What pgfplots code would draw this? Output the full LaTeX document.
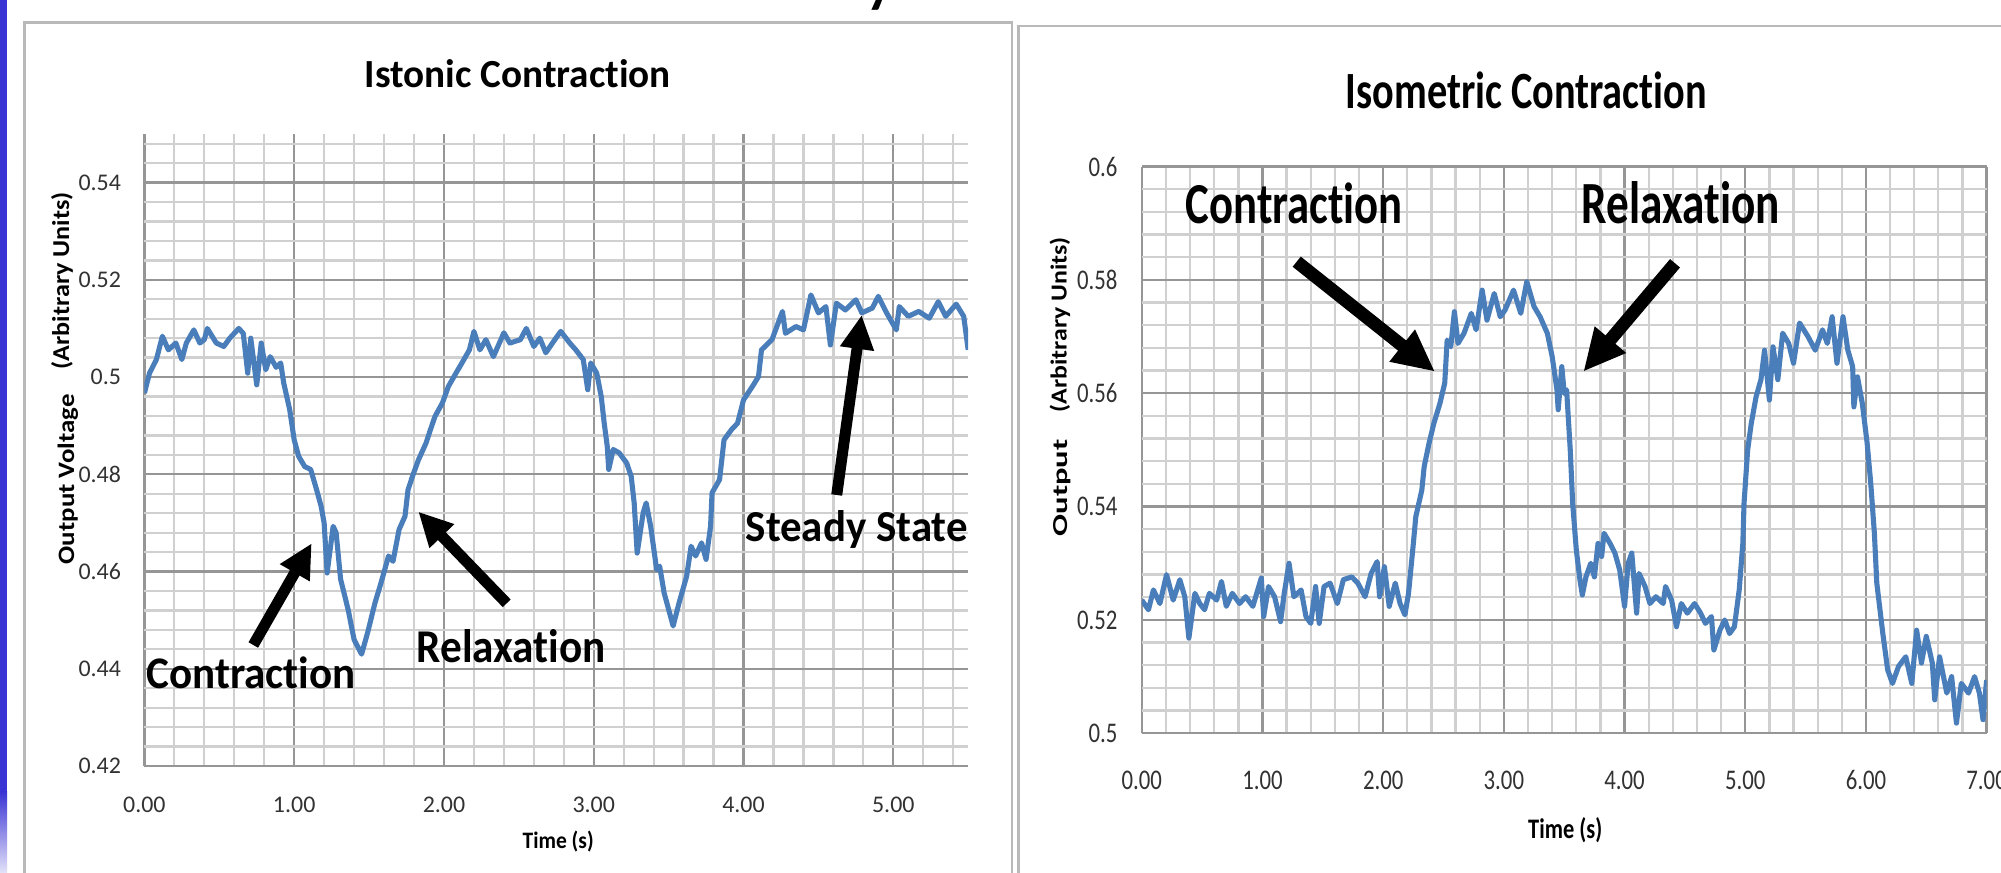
\documentclass[border=0pt]{standalone}
\usepackage{pgfplots}
\pgfplotsset{compat=1.18}
\usepackage{graphicx}
\usepackage{fontspec}
\setmainfont{Carlito}[Ligatures=NoCommon]
\usetikzlibrary{arrows.meta}

\definecolor{linecol}{RGB}{74,126,187}
\definecolor{gridmaj}{RGB}{150,150,150}
\definecolor{gridmin}{RGB}{208,208,208}
\definecolor{ticktext}{RGB}{50,50,50}
\definecolor{framecol}{RGB}{185,185,185}
\definecolor{slideblue}{RGB}{58,52,212}

\pgfplotsset{
  excelgrid/.style={
    scale only axis, anchor=south west,
    grid=both,
    major grid style={line width=0.65pt, color=gridmaj},
    minor grid style={line width=0.65pt, color=gridmin},
    axis line style={draw=none},
    tick style={draw=none},
  },
  trace/.style={color=linecol, line width=1.45pt, line join=round, no markers},
}

\begin{document}
\begin{tikzpicture}[x=1cm, y=1cm]
\fill[white] (0,0) rectangle (20.01,8.72);
\clip (0,0) rectangle (20.01,8.72);

% slide edge and chart frames
\fill[slideblue] (0,0.8) rectangle (0.07,8.72);
\shade[top color=slideblue, bottom color=slideblue!15] (0,0) rectangle (0.07,0.8);
\draw[framecol, line width=0.7pt] (0.247,-0.3) rectangle (10.12,8.493);
\draw[framecol, line width=0.7pt] (10.186,-0.3) rectangle (20.4,8.46);
\node[anchor=base, inner sep=0, font=\bfseries\fontsize{16}{18}\selectfont] at (8.80,8.70) {y};

% ---------------- left chart ----------------
\begin{axis}[excelgrid,
  at={(1.444cm,1.06cm)}, width=8.238cm, height=6.32cm,
  xmin=0, xmax=5.5, ymin=0.42, ymax=0.55,
  xtick={0,1,2,3,4,5}, xticklabels={0.00,1.00,2.00,3.00,4.00,5.00},
  ytick={0.42,0.44,0.46,0.48,0.50,0.52,0.54},
  yticklabels={0.42,0.44,0.46,0.48,0.5,0.52,0.54},
  minor xtick={0,0.2,...,5.41},
  minor ytick={0.424,0.428,...,0.5481},
  xticklabel style={font=\fontsize{6.8}{8}\selectfont, text=ticktext},
  yticklabel style={font=\fontsize{6.8}{8}\selectfont, text=ticktext},
  xticklabel shift=0.185cm, yticklabel shift=0.11cm,
]
\addplot[trace] coordinates {
(0,0.4967) (0.034,0.5008) (0.08,0.5036) (0.12,0.5084) (0.16,0.5056) (0.21,0.5070)
(0.25,0.5036) (0.28,0.507) (0.33,0.5097) (0.37,0.5070) (0.40,0.5077) (0.42,0.510)
(0.48,0.507) (0.53,0.5063) (0.57,0.508) (0.63,0.510) (0.66,0.509) (0.69,0.5008)
(0.71,0.508) (0.75,0.4984) (0.78,0.507) (0.81,0.5015) (0.84,0.5042) (0.88,0.502)
(0.91,0.5029) (0.93,0.4988) (0.97,0.4933) (1.0,0.4871) (1.03,0.4837) (1.07,0.4816)
(1.11,0.481) (1.15,0.4768) (1.18,0.4734) (1.2,0.470) (1.22,0.4597) (1.26,0.4693)
(1.28,0.468) (1.31,0.4584) (1.36,0.4522) (1.40,0.446) (1.45,0.443) (1.49,0.4474)
(1.54,0.4536) (1.58,0.4577) (1.63,0.4632) (1.66,0.4621) (1.70,0.4686) (1.74,0.4714)
(1.76,0.4768) (1.79,0.4796) (1.83,0.483) (1.88,0.4864) (1.91,0.4892) (1.94,0.4919)
(1.99,0.4947) (2.03,0.4981) (2.08,0.5008) (2.12,0.5029) (2.17,0.5056) (2.20,0.5094)
(2.24,0.5056) (2.28,0.5077) (2.33,0.5042) (2.36,0.5063) (2.40,0.5091) (2.44,0.507)
(2.51,0.5077) (2.55,0.510) (2.60,0.5063) (2.64,0.5080) (2.68,0.505) (2.74,0.5077)
(2.78,0.5094) (2.84,0.507) (2.88,0.5056) (2.93,0.5036) (2.96,0.4974) (2.98,0.5029)
(3.02,0.5008) (3.05,0.496) (3.07,0.4905) (3.09,0.4858) (3.10,0.481) (3.13,0.4851)
(3.17,0.4844) (3.22,0.4823) (3.25,0.4796) (3.27,0.4741) (3.29,0.4638) (3.33,0.4721)
(3.35,0.4741) (3.38,0.4693) (3.42,0.4604) (3.44,0.4611) (3.47,0.4556) (3.53,0.4488)
(3.57,0.4536) (3.62,0.459) (3.65,0.4652) (3.68,0.4632) (3.72,0.4659) (3.75,0.4625)
(3.78,0.4693) (3.79,0.4762) (3.84,0.4789) (3.87,0.4871) (3.92,0.4892) (3.96,0.4905)
(4.00,0.4953) (4.06,0.4981) (4.10,0.5001) (4.12,0.5056) (4.19,0.5077) (4.26,0.5135)
(4.28,0.509) (4.35,0.5104) (4.40,0.5097) (4.45,0.5169) (4.50,0.5132) (4.55,0.5145)
(4.58,0.5066) (4.62,0.5152) (4.68,0.5138) (4.75,0.5159) (4.79,0.5132) (4.86,0.5142)
(4.90,0.5166) (4.95,0.5135) (5.02,0.5097) (5.04,0.5145) (5.10,0.5125) (5.17,0.5135)
(5.24,0.5121) (5.30,0.5155) (5.35,0.5125) (5.42,0.515) (5.47,0.5125) (5.50,0.5056)
};
\end{axis}

% ---------------- right chart ----------------
\begin{axis}[excelgrid,
  at={(11.418cm,1.387cm)}, width=8.448cm, height=5.667cm,
  xmin=0, xmax=7, ymin=0.5, ymax=0.6,
  xtick={0,1,2,3,4,5,6,7}, xticklabels={0.00,1.00,2.00,3.00,4.00,5.00,6.00,7.00},
  ytick={0.5,0.52,0.54,0.56,0.58,0.6},
  yticklabels={0.5,0.52,0.54,0.56,0.58,0.6},
  minor xtick={0,0.2,...,7.01},
  minor ytick={0.504,0.508,...,0.5961},
  xticklabel style={font=\fontsize{8.1}{9}\selectfont, text=ticktext, xscale=0.8},
  yticklabel style={font=\fontsize{8.1}{9}\selectfont, text=ticktext, xscale=0.8},
  xticklabel shift=0.25cm, yticklabel shift=0.144cm,
]
\addplot[trace] coordinates {
(0,0.5235) (0.055,0.5218) (0.096,0.5253) (0.15,0.5229) (0.205,0.528) (0.26,0.5235)
(0.315,0.5271) (0.356,0.5241) (0.39,0.5168) (0.44,0.5247) (0.48,0.5229) (0.52,0.5218)
(0.56,0.5247) (0.62,0.5235) (0.66,0.5268) (0.70,0.5224) (0.75,0.5247) (0.81,0.5229)
(0.86,0.5241) (0.92,0.5224) (0.99,0.5274) (1.01,0.5206) (1.05,0.5259) (1.10,0.5241)
(1.15,0.5197) (1.18,0.5247) (1.22,0.530) (1.26,0.5241) (1.32,0.5253) (1.36,0.5206)
(1.40,0.5194) (1.44,0.5259) (1.47,0.5194) (1.51,0.5259) (1.56,0.5265) (1.62,0.5229)
(1.67,0.5271) (1.74,0.5276) (1.79,0.5265) (1.85,0.5241) (1.90,0.5282) (1.95,0.5303)
(1.97,0.5241) (2.01,0.5294) (2.05,0.5224) (2.10,0.5265) (2.14,0.5229) (2.18,0.5209)
(2.21,0.5247) (2.25,0.5335) (2.27,0.5382) (2.32,0.5429) (2.34,0.5471) (2.38,0.5512)
(2.42,0.5547) (2.47,0.5582) (2.51,0.5618) (2.53,0.5694) (2.56,0.5682) (2.59,0.5744)
(2.62,0.5688) (2.67,0.5706) (2.73,0.5741) (2.77,0.5712) (2.82,0.5782) (2.86,0.5729)
(2.92,0.5776) (2.97,0.5735) (3.01,0.5747) (3.08,0.5782) (3.14,0.5741) (3.19,0.5797)
(3.25,0.5753) (3.30,0.5735) (3.36,0.5706) (3.40,0.5665) (3.44,0.5606) (3.45,0.5571)
(3.48,0.5647) (3.50,0.5600) (3.52,0.5606) (3.55,0.55) (3.57,0.5406) (3.60,0.5324)
(3.63,0.5271) (3.65,0.5244) (3.68,0.5276) (3.72,0.5300) (3.75,0.5276) (3.78,0.5335)
(3.81,0.5312) (3.83,0.5353) (3.88,0.5335) (3.92,0.5318) (3.96,0.5288) (4.00,0.5224)
(4.03,0.53) (4.06,0.5318) (4.10,0.5212) (4.12,0.5282) (4.17,0.5259) (4.21,0.5229)
(4.26,0.5241) (4.32,0.5229) (4.34,0.5259) (4.39,0.5235) (4.43,0.5188) (4.47,0.5229)
(4.52,0.5212) (4.58,0.5229) (4.63,0.5212) (4.67,0.5194) (4.72,0.5206) (4.74,0.5147)
(4.79,0.5182) (4.83,0.52) (4.87,0.5176) (4.91,0.5188) (4.95,0.5253) (4.98,0.5335)
(4.99,0.5406) (5.02,0.55) (5.05,0.5547) (5.09,0.5594) (5.13,0.5624) (5.16,0.5676)
(5.20,0.5588) (5.23,0.5682) (5.27,0.5624) (5.31,0.5706) (5.36,0.5688) (5.40,0.5653)
(5.45,0.5724) (5.52,0.57) (5.58,0.5676) (5.64,0.5712) (5.68,0.5688) (5.72,0.5735)
(5.76,0.5653) (5.81,0.5735) (5.85,0.5676) (5.89,0.5647) (5.90,0.5576) (5.93,0.5629)
(5.97,0.5582) (6.01,0.5512) (6.04,0.5441) (6.07,0.5353) (6.09,0.5265) (6.14,0.5176)
(6.18,0.5112) (6.22,0.5088) (6.27,0.5118) (6.33,0.5135) (6.38,0.5088) (6.42,0.5182)
(6.46,0.5124) (6.50,0.5171) (6.55,0.5124) (6.57,0.5059) (6.61,0.5135) (6.67,0.5071)
(6.71,0.51) (6.75,0.5018) (6.79,0.5088) (6.85,0.5071) (6.90,0.51) (6.94,0.5071)
(6.97,0.5024) (7.00,0.5094)
};
\end{axis}

% ---------------- titles and axis labels ----------------
\tikzset{lbl/.style={anchor=base west, inner sep=0pt, text=black}}
\node[lbl] at (3.64,7.84)   {\resizebox{3.06cm}{0.28cm}{\bfseries Istonic Contraction}};
\node[lbl] at (13.45,7.637) {\resizebox{3.61cm}{0.367cm}{\bfseries Isometric Contraction}};
\node[lbl] at (5.22,0.237)  {\resizebox{0.71cm}{0.175cm}{\bfseries Time (s)}};
\node[lbl] at (15.275,0.337){\resizebox{0.74cm}{0.21cm}{\bfseries Time (s)}};
\node[lbl, rotate=90] at (0.74,3.07)   {\resizebox{1.70cm}{0.165cm}{\bfseries Output Voltage}};
\node[lbl, rotate=90] at (0.69,5.02)   {\resizebox{1.77cm}{0.18cm}{\bfseries (Arbitrary Units)}};
\node[lbl, rotate=90] at (10.675,3.35) {\resizebox{0.97cm}{0.14cm}{\bfseries Output}};
\node[lbl, rotate=90] at (10.665,4.59) {\resizebox{1.75cm}{0.17cm}{\bfseries (Arbitrary Units)}};

% ---------------- annotations ----------------
\node[lbl] at (1.46,1.837)  {\resizebox{2.09cm}{0.317cm}{\bfseries Contraction}};
\node[lbl] at (4.16,2.095)  {\resizebox{1.89cm}{0.33cm}{\bfseries Relaxation}};
\node[lbl] at (7.45,3.303)  {\resizebox{2.22cm}{0.31cm}{\bfseries Steady State}};
\node[lbl] at (11.85,6.48)  {\resizebox{2.17cm}{0.407cm}{\bfseries Contraction}};
\node[lbl] at (15.81,6.487) {\resizebox{1.98cm}{0.42cm}{\bfseries Relaxation}};

\tikzset{
  arrL/.style={line width=0.11cm, -{Triangle[length=0.34cm, width=0.32cm]}},
  arrR/.style={line width=0.13cm, -{Triangle[length=0.42cm, width=0.38cm]}},
}
\draw[arrL] (2.533,2.27) -- (3.117,3.287);
\draw[arrL] (5.067,2.687) -- (4.183,3.603);
\draw[arrL] (8.367,3.77) -- (8.617,5.57);
\draw[arrR] (12.967,6.103) -- (14.35,5.003);
\draw[arrR] (16.75,6.087) -- (15.833,5.003);
\end{tikzpicture}
\end{document}
